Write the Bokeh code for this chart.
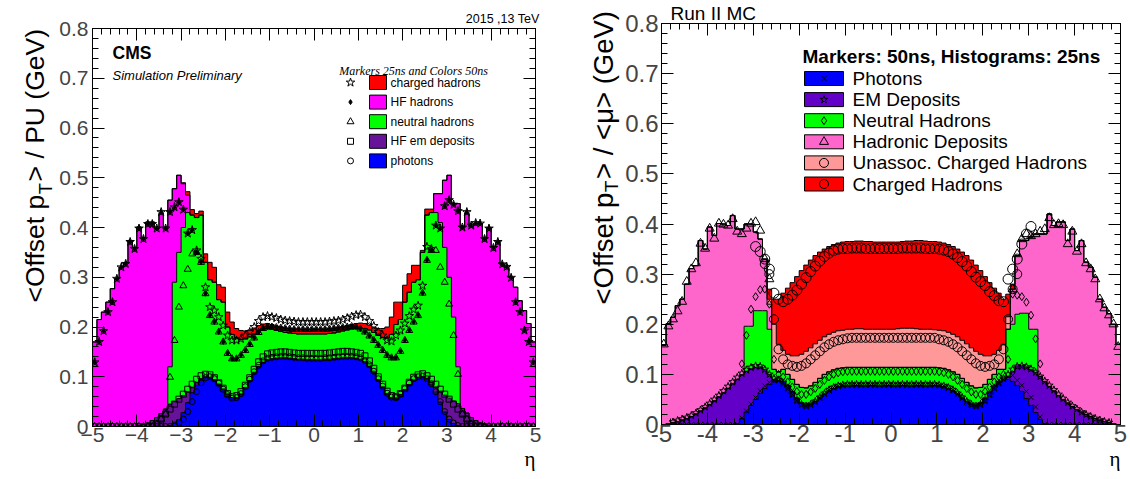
import math
import numpy as np
from bokeh.plotting import figure
from bokeh.layouts import row, column
from bokeh.models import (Label, LinearAxis, Range1d, SingleIntervalTicker,
                          CustomJSTickFormatter, Title)
from bokeh.embed import file_html
from bokeh.resources import INLINE

# ============================ DATA ============================
# eta bins of width 0.1 shared by every histogram / marker series
eta_edges = np.round(np.linspace(-5.0, 5.0, 101), 2)
eta_centers = np.round(0.5 * (eta_edges[:-1] + eta_edges[1:]), 3)
N = None  # marker not shown in that bin

# ---- LEFT panel: stacked (cumulative) histogram heights, colours = 50 ns ----
left_photons = [0,0,0,0,0,0,0,0,0,0,
    0,0,0,0,0,0,0,0.002,0.006,0.014,
    0.028,0.048,0.068,0.083,0.093,0.098,0.098,0.093,0.085,0.075,
    0.065,0.058,0.058,0.065,0.078,0.092,0.107,0.120,0.129,0.134,
    0.136,0.137,0.138,0.138,0.137,0.136,0.135,0.135,0.134,0.134,
    0.134,0.134,0.135,0.135,0.136,0.137,0.138,0.138,0.138,0.137,
    0.135,0.130,0.121,0.108,0.093,0.079,0.066,0.058,0.057,0.064,
    0.074,0.084,0.093,0.098,0.099,0.094,0.084,0.069,0.049,0.029,
    0.014,0.006,0.002,0,0,0,0,0,0,0,
    0,0,0,0,0,0,0,0,0,0]
left_hf_em = [0,0,0,0,0,0,0,0,0,0,
    0.002,0.004,0.007,0.012,0.018,0.026,0.035,0.045,0.050,0.056,
    0.062,0.070,0.078,0.088,0.096,0.100,0.099,0.094,0.085,0.075,
    0.065,0.058,0.058,0.065,0.078,0.092,0.107,0.120,0.129,0.134,
    0.136,0.137,0.138,0.138,0.137,0.136,0.135,0.135,0.134,0.134,
    0.134,0.134,0.135,0.135,0.136,0.137,0.138,0.138,0.138,0.137,
    0.135,0.130,0.121,0.108,0.093,0.079,0.066,0.058,0.057,0.064,
    0.074,0.084,0.093,0.099,0.100,0.097,0.089,0.079,0.071,0.063,
    0.057,0.051,0.046,0.036,0.027,0.018,0.012,0.007,0.004,0.002,
    0,0,0,0,0,0,0,0,0,0]
left_neutral = [0,0,0,0,0,0,0,0,0,0,
    0.002,0.004,0.007,0.012,0.018,0.026,0.035,0.120,0.290,0.350,
    0.400,0.430,0.425,0.420,0.425,0.330,0.295,0.290,0.255,0.250,
    0.200,0.185,0.178,0.175,0.176,0.180,0.186,0.192,0.196,0.197,
    0.195,0.193,0.191,0.189,0.188,0.187,0.186,0.186,0.186,0.186,
    0.186,0.186,0.186,0.187,0.188,0.190,0.192,0.194,0.196,0.197,
    0.198,0.197,0.194,0.189,0.183,0.179,0.178,0.185,0.205,0.215,
    0.250,0.270,0.290,0.295,0.350,0.425,0.430,0.430,0.410,0.360,
    0.300,0.220,0.120,0.036,0.027,0.018,0.012,0.007,0.004,0.002,
    0,0,0,0,0,0,0,0,0,0]
left_hf_had = [0.170,0.215,0.230,0.250,0.277,0.297,0.320,0.329,0.374,0.359,
    0.401,0.379,0.411,0.411,0.398,0.428,0.398,0.455,0.478,0.505,
    0.488,0.465,0.425,0.420,0.425,0.330,0.295,0.290,0.255,0.250,
    0.200,0.185,0.178,0.175,0.176,0.180,0.186,0.192,0.196,0.197,
    0.195,0.193,0.191,0.189,0.188,0.187,0.186,0.186,0.186,0.186,
    0.186,0.186,0.186,0.187,0.188,0.190,0.192,0.194,0.196,0.197,
    0.198,0.197,0.194,0.189,0.183,0.179,0.178,0.185,0.205,0.215,
    0.250,0.270,0.290,0.295,0.350,0.425,0.430,0.468,0.468,0.495,
    0.505,0.448,0.448,0.401,0.428,0.401,0.408,0.408,0.377,0.400,
    0.361,0.371,0.327,0.320,0.300,0.280,0.253,0.233,0.207,0.170]
left_charged = [0.170,0.215,0.230,0.250,0.277,0.297,0.320,0.329,0.374,0.359,
    0.401,0.379,0.411,0.411,0.398,0.428,0.398,0.455,0.478,0.505,
    0.490,0.472,0.436,0.428,0.433,0.347,0.330,0.320,0.285,0.280,
    0.230,0.210,0.197,0.193,0.192,0.194,0.198,0.203,0.206,0.207,
    0.205,0.202,0.200,0.198,0.197,0.196,0.195,0.195,0.195,0.195,
    0.195,0.195,0.195,0.196,0.197,0.199,0.201,0.203,0.205,0.207,
    0.208,0.207,0.204,0.200,0.197,0.197,0.200,0.220,0.250,0.250,
    0.284,0.307,0.324,0.324,0.354,0.437,0.437,0.468,0.468,0.495,
    0.505,0.448,0.448,0.401,0.428,0.401,0.408,0.408,0.377,0.400,
    0.361,0.371,0.327,0.320,0.300,0.280,0.253,0.233,0.207,0.170]

# ---- LEFT panel: stacked marker heights, markers = 25 ns ----
left_m_photons = [0,0,0,0,0,0,0,0,0,0,
    0,0,0,0,0,0,0,0,0.003,0.008,
    0.015,0.030,0.050,0.070,0.088,0.098,0.100,0.096,0.087,0.075,
    0.064,0.057,0.058,0.066,0.080,0.095,0.110,0.123,0.132,0.137,
    0.139,0.140,0.141,0.141,0.140,0.139,0.138,0.138,0.137,0.137,
    0.137,0.137,0.138,0.138,0.139,0.140,0.141,0.141,0.141,0.140,
    0.138,0.133,0.124,0.111,0.096,0.081,0.067,0.059,0.058,0.065,
    0.076,0.087,0.096,0.100,0.101,0.096,0.086,0.070,0.050,0.030,
    0.015,0.007,0.002,0,0,0,0,0,0,0,
    0,0,0,0,0,0,0,0,0,0]
left_m_hf_em = [0,0,0,0,0,0,0,0,0,0,
    0,0,0,0,0.005,0.015,0.025,0.035,0.045,0.055,
    0.065,0.075,0.085,0.095,0.102,0.105,0.104,0.098,0.088,0.077,
    0.066,0.060,0.062,0.070,0.083,0.098,0.115,0.130,0.140,0.146,
    0.148,0.149,0.150,0.150,0.149,0.148,0.147,0.147,0.147,0.147,
    0.147,0.147,0.147,0.148,0.149,0.150,0.151,0.151,0.150,0.149,
    0.147,0.142,0.132,0.117,0.100,0.085,0.071,0.062,0.060,0.066,
    0.077,0.089,0.099,0.104,0.106,0.102,0.095,0.085,0.075,0.065,
    0.055,0.045,0.035,0.025,0.015,0.005,0,0,0,0,
    0,0,0,0,0,0,0,0,0,0]
left_m_neutral = [0,0,0,0,0,0,0,0,0,0,
    0,0,0,0,0.005,0.015,0.025,0.099,0.173,0.240,
    0.283,0.316,0.347,0.350,0.330,0.267,0.223,0.210,0.190,0.170,
    0.147,0.136,0.136,0.143,0.153,0.165,0.178,0.189,0.197,0.200,
    0.200,0.199,0.198,0.197,0.196,0.195,0.195,0.195,0.195,0.195,
    0.195,0.195,0.195,0.196,0.197,0.198,0.199,0.200,0.201,0.200,
    0.196,0.190,0.182,0.173,0.163,0.153,0.143,0.138,0.138,0.151,
    0.173,0.193,0.210,0.223,0.268,0.334,0.354,0.354,0.320,0.290,
    0.246,0.183,0.105,0.025,0.015,0.005,0,0,0,0,
    0,0,0,0,0,0,0,0,0,0]
left_m_hf_had = [0.129,0.170,0.192,0.230,0.250,0.297,0.320,0.327,0.371,0.357,
    0.398,0.377,0.407,0.407,0.398,0.431,0.398,0.431,0.441,0.451,
    0.436,0.388,0.395,0.350,0.330,0.267,0.223,0.210,0.190,0.170,
    0.147,0.136,0.136,0.143,0.153,0.165,0.178,0.189,0.197,0.200,
    0.200,0.199,0.198,0.197,0.196,0.195,0.195,0.195,0.195,0.195,
    0.195,0.195,0.195,0.196,0.197,0.198,0.199,0.200,0.201,0.200,
    0.196,0.190,0.182,0.173,0.163,0.153,0.143,0.138,0.138,0.151,
    0.173,0.193,0.210,0.223,0.268,0.334,0.354,0.404,0.398,0.443,
    0.455,0.446,0.433,0.400,0.431,0.404,0.409,0.408,0.377,0.398,
    0.359,0.371,0.326,0.321,0.299,0.250,0.230,0.193,0.170,0.129]
left_m_charged = [0.129,0.170,0.192,0.230,0.250,0.297,0.320,0.327,0.371,0.357,
    0.398,0.377,0.407,0.407,0.398,0.431,0.398,0.431,0.441,0.451,
    0.436,0.388,0.395,0.354,0.337,0.280,0.240,0.233,0.220,0.203,
    0.183,0.173,0.173,0.176,0.183,0.190,0.200,0.212,0.220,0.222,
    0.220,0.218,0.215,0.213,0.212,0.211,0.210,0.210,0.210,0.210,
    0.210,0.210,0.210,0.211,0.212,0.213,0.215,0.218,0.221,0.224,
    0.225,0.220,0.212,0.202,0.190,0.183,0.173,0.171,0.183,0.193,
    0.207,0.222,0.235,0.243,0.283,0.361,0.357,0.404,0.398,0.443,
    0.455,0.446,0.433,0.400,0.431,0.404,0.409,0.408,0.377,0.398,
    0.359,0.371,0.326,0.321,0.299,0.250,0.230,0.193,0.170,0.129]

# ---- RIGHT panel: stacked (cumulative) histogram heights, histograms = 25 ns ----
right_photons = [0,0,0,0,0,0,0,0,0,0,
    0,0,0,0,0,0,0.002,0.012,0.025,0.038,
    0.050,0.062,0.072,0.080,0.085,0.088,0.086,0.078,0.066,0.053,
    0.043,0.039,0.041,0.046,0.053,0.061,0.067,0.072,0.075,0.077] + [0.078] * 20 + [
    0.077,0.075,0.072,0.067,0.061,0.053,0.046,0.041,0.039,0.043,
    0.053,0.066,0.077,0.085,0.089,0.090,0.086,0.078,0.066,0.052,
    0.038,0.024,0.010,0.002,0,0,0,0,0,0,
    0,0,0,0,0,0,0,0,0,0]
right_em = [0,0.002,0.004,0.006,0.009,0.012,0.016,0.021,0.027,0.033,
    0.040,0.047,0.055,0.063,0.072,0.081,0.090,0.099,0.106,0.111,
    0.114,0.115,0.110,0.100,0.090,0.088,0.086,0.078,0.066,0.053,
    0.043,0.039,0.041,0.046,0.053,0.061,0.067,0.072,0.075,0.077] + [0.078] * 20 + [
    0.077,0.075,0.072,0.067,0.061,0.053,0.046,0.041,0.039,0.043,
    0.053,0.066,0.077,0.085,0.089,0.095,0.105,0.117,0.117,0.115,
    0.110,0.104,0.096,0.086,0.076,0.067,0.058,0.050,0.043,0.036,
    0.030,0.025,0.020,0.016,0.012,0.009,0.006,0.004,0.002,0]
right_neutral = [0,0.002,0.004,0.006,0.009,0.012,0.016,0.021,0.027,0.033,
    0.040,0.047,0.055,0.063,0.072,0.081,0.090,0.099,0.196,0.196,
    0.227,0.227,0.227,0.190,0.110,0.105,0.110,0.100,0.090,0.080,
    0.074,0.073,0.077,0.084,0.092,0.100,0.105,0.109,0.112,0.113] + [0.114] * 20 + [
    0.113,0.112,0.109,0.105,0.100,0.092,0.084,0.077,0.073,0.074,
    0.080,0.090,0.100,0.110,0.110,0.190,0.200,0.220,0.222,0.222,
    0.190,0.190,0.096,0.086,0.076,0.067,0.058,0.050,0.043,0.036,
    0.030,0.025,0.020,0.016,0.012,0.009,0.006,0.004,0.002,0]
right_hadronic = [0.158,0.201,0.214,0.237,0.250,0.280,0.311,0.317,0.367,0.350,
    0.394,0.377,0.401,0.400,0.397,0.417,0.390,0.390,0.400,0.400,
    0.384,0.370,0.330,0.240,0.110,0.105,0.110,0.100,0.090,0.080,
    0.074,0.073,0.077,0.084,0.092,0.100,0.105,0.109,0.112,0.113] + [0.114] * 20 + [
    0.113,0.112,0.109,0.105,0.100,0.092,0.084,0.077,0.073,0.074,
    0.080,0.090,0.100,0.110,0.110,0.190,0.270,0.337,0.367,0.367,
    0.374,0.380,0.380,0.380,0.420,0.397,0.404,0.404,0.367,0.390,
    0.347,0.367,0.324,0.314,0.294,0.250,0.234,0.221,0.200,0.160]
right_unassoc = [0.158,0.201,0.214,0.237,0.250,0.280,0.311,0.317,0.367,0.350,
    0.394,0.377,0.401,0.400,0.397,0.417,0.390,0.390,0.400,0.400,
    0.384,0.370,0.330,0.250,0.200,0.160,0.148,0.140,0.137,0.137,
    0.140,0.146,0.153,0.161,0.168,0.175,0.180,0.184,0.187,0.188,
    0.190,0.190,0.191,0.191,0.190,0.190,0.190,0.190,0.190,0.190,
    0.190,0.191,0.192,0.192,0.192,0.191,0.190,0.190,0.190,0.189,
    0.188,0.187,0.184,0.180,0.175,0.168,0.161,0.153,0.146,0.140,
    0.137,0.137,0.140,0.148,0.160,0.215,0.270,0.337,0.367,0.367,
    0.374,0.380,0.380,0.380,0.420,0.397,0.404,0.404,0.367,0.390,
    0.347,0.367,0.324,0.314,0.294,0.250,0.234,0.221,0.200,0.160]
right_charged = [0.158,0.201,0.214,0.237,0.250,0.280,0.311,0.317,0.367,0.350,
    0.394,0.377,0.401,0.400,0.397,0.417,0.390,0.390,0.400,0.400,
    0.384,0.370,0.330,0.270,0.250,0.250,0.262,0.272,0.283,0.295,
    0.307,0.318,0.328,0.337,0.344,0.350,0.355,0.359,0.362,0.364,
    0.365,0.365,0.366,0.366,0.365,0.365,0.364,0.364,0.364,0.364,
    0.364,0.364,0.365,0.366,0.366,0.367,0.367,0.366,0.365,0.365,
    0.364,0.362,0.359,0.355,0.350,0.344,0.337,0.328,0.318,0.307,
    0.295,0.283,0.272,0.262,0.250,0.260,0.280,0.337,0.367,0.367,
    0.374,0.380,0.380,0.380,0.420,0.397,0.404,0.404,0.367,0.390,
    0.347,0.367,0.324,0.314,0.294,0.250,0.234,0.221,0.200,0.160]

# ---- RIGHT panel: stacked marker heights, markers = 50 ns ----
right_m_photons = [N,N,0,0,0,0,0,0,0,0,
    0,0,0,0,0,0,0,0.013,0.027,0.041,
    0.054,0.067,0.077,0.084,0.088,0.088,0.083,0.073,0.060,0.048,
    0.040,0.037,0.040,0.046,0.054,0.062,0.069,0.074,0.077,0.079] + [0.080] * 20 + [
    0.079,0.077,0.074,0.069,0.062,0.054,0.046,0.040,0.037,0.040,
    0.048,0.060,0.073,0.083,0.090,0.095,0.098,0.088,0.078,0.066,
    0.054,0.035,0.015,0,0,0,0,0,0,0,
    0,0,0,0,0,0,0,0,N,N]
right_m_em = [N,N,0.005,0.008,0.011,0.014,0.018,0.023,0.029,0.035,
    0.042,0.050,0.058,0.067,0.076,0.085,0.094,0.102,0.109,0.114,
    0.117,0.116,0.110,0.100,0.092,0.089,0.083,0.073,0.060,0.048,
    0.040,0.037,0.040,0.046,0.054,0.062,0.069,0.074,0.077,0.079] + [0.080] * 20 + [
    0.079,0.077,0.074,0.069,0.062,0.054,0.046,0.040,0.037,0.040,
    0.048,0.060,0.073,0.083,0.092,0.100,0.110,0.116,0.117,0.115,
    0.111,0.104,0.096,0.087,0.078,0.069,0.060,0.052,0.044,0.037,
    0.031,0.025,0.020,0.016,0.012,0.009,0.006,0.004,N,N]
right_m_neutral = [N] * 17 + [0.121,0.178,0.230,
    0.255,0.269,0.270,0.240,0.130,0.100,0.095,0.085,0.075,0.066,
    0.060,0.060,0.065,0.072,0.080,0.088,0.095,0.100,0.103,0.105] + [0.106] * 20 + [
    0.105,0.103,0.100,0.095,0.088,0.080,0.072,0.065,0.060,0.060,
    0.066,0.075,0.085,0.095,0.100,0.130,0.260,0.258,0.255,0.244,
    0.218,0.171,0.121] + [N] * 17
right_m_hadronic = [0.160,0.196,0.210,0.226,0.245,0.285,0.310,0.322,0.361,0.351,
    0.391,0.371,0.401,0.399,0.397,0.410,0.385,0.380,0.391,0.401,
    0.404,0.387,0.330,0.290] + [N] * 52 + [0.270,0.340,0.370,0.380,
    0.376,0.380,0.385,0.390,0.412,0.398,0.400,0.398,0.360,0.385,
    0.345,0.360,0.322,0.310,0.290,0.250,0.232,0.218,0.200,0.155]
right_m_unassoc = [N] * 22 + [0.320,0.300,0.210,0.150,0.130,0.120,0.117,0.115,
    0.117,0.122,0.130,0.138,0.146,0.154,0.160,0.165,0.168,0.170,
    0.172] + [0.173] * 19 + [
    0.170,0.168,0.165,0.160,0.154,0.146,0.138,0.130,0.122,0.117,
    0.115,0.117,0.120,0.130,0.150,0.210,0.270,0.300] + [N] * 22
right_m_charged = [N] * 20 + [0.355,0.345,0.330,0.310,0.262,0.250,0.245,0.250,0.258,0.268,
    0.280,0.293,0.305,0.316,0.326,0.335,0.342,0.347,0.350,0.351,
    0.351,0.352,0.352,0.352,0.351,0.351,0.351,0.351,0.351,0.351,
    0.351,0.351,0.352,0.352,0.352,0.352,0.352,0.351,0.351,0.351,
    0.350,0.348,0.345,0.340,0.333,0.325,0.316,0.305,0.294,0.285,
    0.277,0.265,0.257,0.247,0.245,0.290,0.310,0.330,0.360,0.380,
    0.395] + [N] * 19

left_names = ["charged hadrons", "HF hadrons", "neutral hadrons", "HF em deposits", "photons"]
right_names = ["Photons", "EM Deposits", "Neutral Hadrons", "Hadronic Deposits",
               "Unassoc. Charged Hadrons", "Charged Hadrons"]

# ============================ STYLE ============================
RED, MAGENTA, GREEN, BLUE = "#ff0000", "#ff00ff", "#00ff00", "#0000ff"
PURPLE_L, PURPLE_R, PINK, SALMON = "#66139a", "#6200c8", "#ff66cc", "#ff9999"
SANS, SERIF = "Liberation Sans", "Liberation Serif"

# Arial / Liberation Sans advance widths (em) used to lay out the y titles
EM = {'<': .584, 'O': .778, 'f': .278, 's': .5, 'e': .556, 't': .278, ' ': .278,
      'p': .556, 'T': .611, '>': .584, '/': .278, 'P': .667, 'U': .722, '(': .333,
      'G': .778, 'V': .667, ')': .333, 'μ': .576}


def text_px(s, size):
    return sum(EM.get(c, 0.55) for c in s) * size


def to_data(fr, sx, sy):
    x = -5.0 + (sx - fr["x0"]) * 10.0 / (fr["x1"] - fr["x0"])
    y = (fr["yb"] - sy) * 0.8 / (fr["yb"] - fr["yt"])
    return x, y


def label(p, x, y, text, size, font=SANS, style="normal", align="left",
          baseline="middle", angle=0.0):
    p.add_layout(Label(x=x, y=y, text=text, text_font=font, text_font_size=f"{size}px",
                       text_font_style=style, text_align=align, text_baseline=baseline,
                       angle=angle, text_color="black"))


def frame_text(p, fr, sx, sy, text, size, **kw):
    x, y = to_data(fr, sx, sy)
    label(p, x, y, text, size, **kw)


def side_title(p, place, text, size, align, offset=0, standoff=0, font=SANS):
    p.add_layout(Title(text=text, align=align, offset=offset, standoff=standoff,
                       text_font=font, text_font_size=f"{size}px", text_font_style="normal",
                       text_color="black"), place)


def text_fig(w, h):
    """A plain strip (frame = whole strip, pixel coordinates, y down) for the y titles."""
    f = figure(width=w, height=h, x_range=Range1d(0, w), y_range=Range1d(h, 0),
               x_axis_type=None, y_axis_type=None, title=None, min_border=0,
               output_backend="svg", toolbar_location=None)
    f.outline_line_color = None
    f.background_fill_color = "white"
    f.border_fill_color = "white"
    return f


def add_ytitle(f, base_x, start_y, parts, size, sub_dx):
    y = start_y
    for txt, sub in parts:
        fs = round(size * 0.7, 1) if sub else size
        label(f, base_x + (sub_dx if sub else 0), y, txt, fs, baseline="alphabetic",
              angle=math.pi / 2)
        y -= text_px(txt, fs) + (1.5 if sub else 0)


def make_fig(fw, fh, bl, br, bt, bb, tick_px, xcode, xstand, ystand):
    p = figure(frame_width=fw, frame_height=fh, min_border_left=bl, min_border_right=br,
               min_border_top=bt, min_border_bottom=bb, x_range=Range1d(-5, 5),
               y_range=Range1d(0, 0.8), x_axis_type=None, y_axis_type=None, title=None,
               output_backend="svg", toolbar_location=None)
    p.outline_line_color = "black"
    p.outline_line_width = 1
    p.background_fill_color = "white"
    p.border_fill_color = "white"
    xt = SingleIntervalTicker(interval=1, num_minor_ticks=5)
    yt = SingleIntervalTicker(interval=0.1, num_minor_ticks=5)
    common = dict(major_tick_in=12, major_tick_out=0, minor_tick_in=6, minor_tick_out=0,
                  major_tick_line_color="black", minor_tick_line_color="black",
                  axis_line_color="black")
    bx = LinearAxis(ticker=xt, formatter=CustomJSTickFormatter(code=xcode),
                    major_label_text_font=SANS, major_label_text_font_size=f"{tick_px}px",
                    major_label_standoff=xstand, **common)
    ly = LinearAxis(ticker=yt, formatter=CustomJSTickFormatter(
                        code="return Math.abs(tick) < 1e-9 ? '0' : tick.toFixed(1);"),
                    major_label_text_font=SANS, major_label_text_font_size=f"{tick_px}px",
                    major_label_standoff=ystand, **common)
    p.add_layout(bx, "below")
    p.add_layout(ly, "left")
    for loc, tk in (("above", xt), ("right", yt)):
        ax = LinearAxis(ticker=tk, major_label_text_font_size="0px",
                        major_label_text_color=None, major_label_standoff=0, **common)
        p.add_layout(ax, loc)
    return p


def draw_stack(p, layers, colors):
    xs = np.repeat(eta_edges, 2)[1:-1]
    lower = np.zeros(len(xs))
    tops = []
    for vals, col in zip(layers, colors):
        ys = np.repeat(np.asarray(vals, dtype=float), 2)
        p.varea(x=xs, y1=lower, y2=ys, fill_color=col)
        tops.append(ys)
        lower = ys
    for ys in tops:
        p.line(xs, ys, line_color="black", line_width=1)


def draw_markers(p, series, styles):
    for vals, (mk, size, filled) in zip(series, styles):
        p.scatter(eta_centers, np.asarray(vals, dtype=float), marker=mk, size=size,
                  line_color="black", line_width=1, fill_color="black",
                  fill_alpha=1.0 if filled else 0.0)


# ============================ LEFT PANEL ============================
# page (no margin): y-title strip 56 | figure 509 (36 + 443 + 30) ; height 28 + 398 + 52
FL = dict(x0=92, x1=535, yt=28, yb=426)
pl = make_fig(443, 398, 36, 30, 28, 52, 21,
              "var v = Math.round(tick); return v < 0 ? '\u2212' + (-v) : '' + v;", 1, 4)
draw_stack(pl, [left_photons, left_hf_em, left_neutral, left_hf_had, left_charged],
           [BLUE, PURPLE_L, GREEN, MAGENTA, RED])
left_styles = [("circle", 6, False), ("square", 6, False), ("triangle", 7, False),
               ("diamond", 5, True), ("star", 9, False)]
draw_markers(pl, [left_m_photons, left_m_hf_em, left_m_neutral, left_m_hf_had, left_m_charged],
             left_styles)

side_title(pl, "above", "2015 ,13 TeV", 12.5, "right", offset=-4, standoff=5)
side_title(pl, "below", "η", 21, "right", standoff=0, font=SERIF)
frame_text(pl, FL, 112, 52, "CMS", 17.5, style="bold")
frame_text(pl, FL, 112, 75, "Simulation Preliminary", 13, style="italic")
frame_text(pl, FL, 413, 70, "Markers 25ns and Colors 50ns", 12, font=SERIF, style="italic",
           align="center")
leg_colors_l = [RED, MAGENTA, GREEN, PURPLE_L, BLUE]
leg_styles_l = [left_styles[4], left_styles[3], left_styles[2], left_styles[1], left_styles[0]]
for k, (name, col, (mk, sz, filled)) in enumerate(zip(left_names, leg_colors_l, leg_styles_l)):
    sy = 82 + 19.6 * k
    mx, my = to_data(FL, 350, sy)
    bx_, by_ = to_data(FL, 377.5, sy)
    pl.scatter([mx], [my], marker=mk, size=sz, line_color="black", line_width=1,
               fill_color="black", fill_alpha=1.0 if filled else 0.0)
    pl.rect([bx_], [by_], width=17, height=14, width_units="screen", height_units="screen",
            fill_color=col, line_color="black", line_width=1)
    frame_text(pl, FL, 390, sy, name, 12)

ylab_l = text_fig(56, 478)
add_ytitle(ylab_l, 34, 302, [("<Offset p", False), ("T", True), ("> / PU (GeV)", False)],
           26.5, 11)

# ============================ RIGHT PANEL ============================
# page: y-title strip 57 | figure 507 (38 + 459 + 10) ; height 23 + 401 + 54
FR = dict(x0=660, x1=1119, yt=23, yb=424)
pr = make_fig(459, 401, 38, 10, 23, 54, 24, "return '' + Math.round(tick);", 0, 3)
draw_stack(pr, [right_photons, right_em, right_neutral, right_hadronic, right_unassoc,
                right_charged], [BLUE, PURPLE_R, GREEN, PINK, SALMON, RED])
right_styles = [("x", 7, False), ("star", 8, False), ("diamond", 8, False),
                ("triangle", 9, False), ("circle", 9, False), ("circle", 10, False)]
draw_markers(pr, [right_m_photons, right_m_em, right_m_neutral, right_m_hadronic,
                  right_m_unassoc, right_m_charged], right_styles)

side_title(pr, "above", "Run II MC", 19, "left", offset=9, standoff=0)
side_title(pr, "below", "η", 21, "right", standoff=0, font=SERIF)
frame_text(pr, FR, 801, 56, "Markers: 50ns, Histograms: 25ns", 19, style="bold")
leg_colors_r = [BLUE, PURPLE_R, GREEN, PINK, SALMON, RED]
for k, (name, col, (mk, sz, filled)) in enumerate(zip(right_names, leg_colors_r, right_styles)):
    sy = 78 + 21.1 * k
    bx_, by_ = to_data(FR, 822.5, sy)
    pr.rect([bx_], [by_], width=39, height=14, width_units="screen", height_units="screen",
            fill_color=col, line_color="black", line_width=1)
    pr.scatter([bx_], [by_], marker=mk, size=min(sz, 9), line_color="black", line_width=1,
               fill_alpha=0.0)
    frame_text(pr, FR, 851, sy, name, 19)

ylab_r = text_fig(57, 478)
add_ytitle(ylab_r, 38, 304, [("<Offset p", False), ("T", True), ("> / <μ> (GeV)", False)],
           27.5, 8)

# each figure in its own column so that Bokeh does not align the frames of neighbours
layout = row(column(ylab_l), column(pl), column(ylab_r), column(pr))
open("out.html", "w").write(file_html(layout, INLINE))
